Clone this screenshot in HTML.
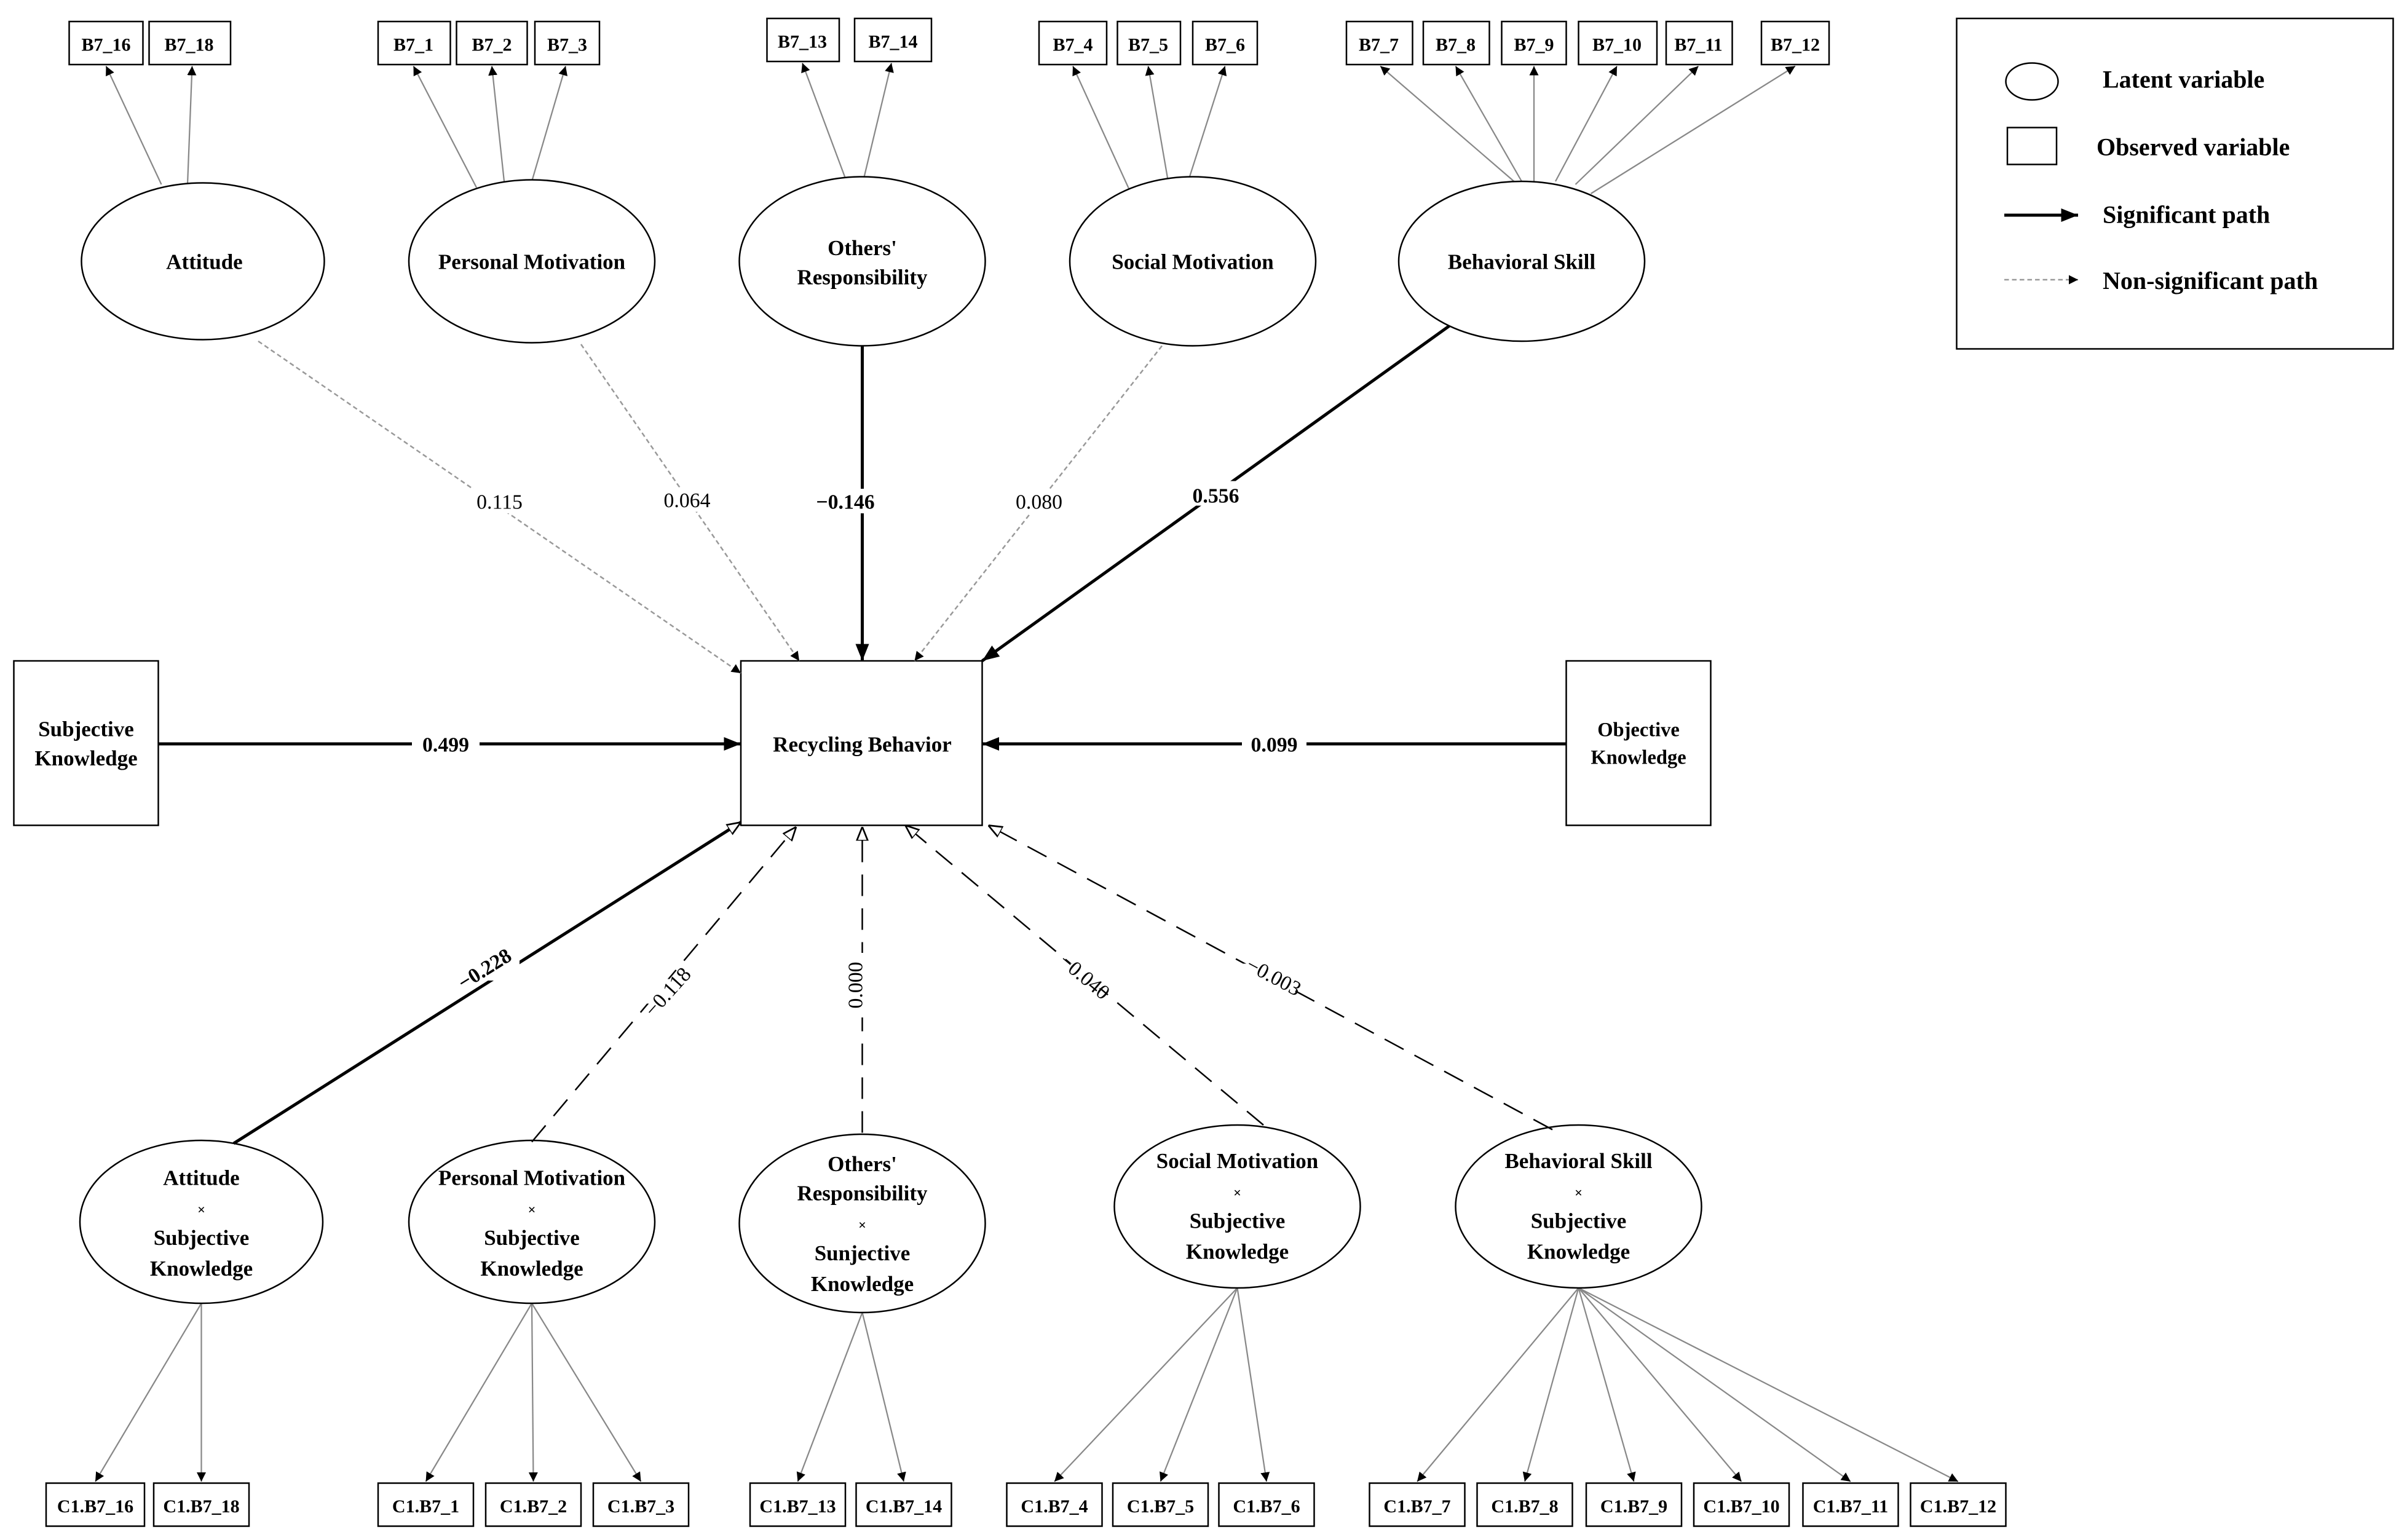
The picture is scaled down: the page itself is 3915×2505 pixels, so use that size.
<!DOCTYPE html>
<html><head><meta charset="utf-8"><style>
html,body{margin:0;padding:0;background:#fff}
svg{display:block}
text{font-family:"Liberation Serif",serif;fill:#000}
.b{font-weight:bold}
</style></head><body>
<svg width="3915" height="2505" viewBox="0 0 1566 1002" preserveAspectRatio="none" xmlns="http://www.w3.org/2000/svg">
<defs>
<marker id="sa" viewBox="0 0 10 10" refX="10" refY="5" markerWidth="6" markerHeight="6" orient="auto" markerUnits="userSpaceOnUse"><path d="M0,0L10,5L0,10z" fill="#000"/></marker>
<marker id="ba" viewBox="0 0 10 10" refX="10" refY="5" markerWidth="11" markerHeight="11" orient="auto" markerUnits="userSpaceOnUse"><path d="M0,1L10,5L0,9z" fill="#000"/></marker>
<marker id="oa" viewBox="0 0 10 10" refX="10" refY="5" markerWidth="9" markerHeight="9" orient="auto" markerUnits="userSpaceOnUse"><path d="M0,1L10,5L0,9z" fill="#fff" stroke="#000" stroke-width="1.2"/></marker>
</defs>
<g fill="#fff" stroke="#000" stroke-width="1">
<!-- top boxes -->
<rect x="45" y="14" width="48" height="28"/><rect x="97" y="14" width="53" height="28"/>
<rect x="246" y="14" width="47" height="28"/><rect x="297" y="14" width="46" height="28"/><rect x="348" y="14" width="42" height="28"/>
<rect x="499" y="12" width="47" height="28"/><rect x="556" y="12" width="50" height="28"/>
<rect x="676" y="14" width="44" height="28"/><rect x="727" y="14" width="41" height="28"/><rect x="776" y="14" width="42" height="28"/>
<rect x="876" y="14" width="43" height="28"/><rect x="926" y="14" width="43" height="28"/><rect x="977" y="14" width="42" height="28"/><rect x="1027" y="14" width="51" height="28"/><rect x="1084" y="14" width="43" height="28"/><rect x="1146" y="14" width="44" height="28"/>
<!-- legend -->
<rect x="1273" y="12" width="284" height="215"/>
<ellipse cx="1322" cy="53" rx="17" ry="12"/>
<rect x="1306" y="83" width="32" height="24"/>
<!-- main boxes -->
<rect x="482" y="430" width="157" height="107"/>
<rect x="9" y="430" width="94" height="107"/>
<rect x="1019" y="430" width="94" height="107"/>
<!-- bottom boxes -->
<rect x="30" y="965" width="64" height="28"/><rect x="100" y="965" width="62" height="28"/>
<rect x="246" y="965" width="62" height="28"/><rect x="316" y="965" width="62" height="28"/><rect x="386" y="965" width="62" height="28"/>
<rect x="488" y="965" width="62" height="28"/><rect x="557" y="965" width="62" height="28"/>
<rect x="655" y="965" width="62" height="28"/><rect x="724" y="965" width="62" height="28"/><rect x="793" y="965" width="62" height="28"/>
<rect x="891" y="965" width="62" height="28"/><rect x="961" y="965" width="62" height="28"/><rect x="1032" y="965" width="62" height="28"/><rect x="1102" y="965" width="62" height="28"/><rect x="1173" y="965" width="62" height="28"/><rect x="1243" y="965" width="62" height="28"/>
</g>
<!-- loading lines top -->
<g stroke="#888" stroke-width="0.9" fill="none" marker-end="url(#sa)">
<line x1="105" y1="120" x2="69" y2="43"/><line x1="122" y1="120" x2="125" y2="43"/>
<line x1="310" y1="122" x2="269" y2="43"/><line x1="328" y1="118" x2="320" y2="43"/><line x1="346" y1="118" x2="368" y2="43"/>
<line x1="550" y1="116" x2="522" y2="41"/><line x1="562" y1="116" x2="580" y2="41"/>
<line x1="735" y1="124" x2="698" y2="43"/><line x1="760" y1="118" x2="747" y2="43"/><line x1="773" y1="118" x2="797" y2="43"/>
<line x1="985" y1="118" x2="898" y2="43"/><line x1="990" y1="118" x2="947" y2="43"/><line x1="998" y1="118" x2="998" y2="43"/><line x1="1012" y1="118" x2="1052" y2="43"/><line x1="1025" y1="120" x2="1105" y2="43"/><line x1="1035" y1="126" x2="1168" y2="43"/>
<!-- bottom loadings -->
<line x1="131" y1="848" x2="62" y2="964"/><line x1="131" y1="848" x2="131" y2="964"/>
<line x1="346" y1="848" x2="277" y2="964"/><line x1="346" y1="848" x2="347" y2="964"/><line x1="346" y1="848" x2="417" y2="964"/>
<line x1="561" y1="854" x2="519" y2="964"/><line x1="561" y1="854" x2="588" y2="964"/>
<line x1="805" y1="838" x2="686" y2="964"/><line x1="805" y1="838" x2="755" y2="964"/><line x1="805" y1="838" x2="824" y2="964"/>
<line x1="1027" y1="838" x2="922" y2="964"/><line x1="1027" y1="838" x2="992" y2="964"/><line x1="1027" y1="838" x2="1063" y2="964"/><line x1="1027" y1="838" x2="1133" y2="964"/><line x1="1027" y1="838" x2="1204" y2="964"/><line x1="1027" y1="838" x2="1274" y2="964"/>
</g>
<!-- ellipses -->
<g fill="#fff" stroke="#000" stroke-width="1">
<ellipse cx="132" cy="170" rx="79" ry="51"/>
<ellipse cx="346" cy="170" rx="80" ry="53"/>
<ellipse cx="561" cy="170" rx="80" ry="55"/>
<ellipse cx="776" cy="170" rx="80" ry="55"/>
<ellipse cx="990" cy="170" rx="80" ry="52"/>
<ellipse cx="131" cy="795" rx="79" ry="53"/>
<ellipse cx="346" cy="795" rx="80" ry="53"/>
<ellipse cx="561" cy="796" rx="80" ry="58"/>
<ellipse cx="805" cy="785" rx="80" ry="53"/>
<ellipse cx="1027" cy="785" rx="80" ry="53"/>
</g>
<!-- structural paths -->
<g fill="none">
<line x1="168" y1="222" x2="482" y2="438" stroke="#999" stroke-dasharray="3,2" marker-end="url(#sa)"/>
<line x1="378" y1="224" x2="520" y2="430" stroke="#999" stroke-dasharray="3,2" marker-end="url(#sa)"/>
<line x1="561" y1="225" x2="561" y2="430" stroke="#000" stroke-width="2" marker-end="url(#ba)"/>
<line x1="756" y1="225" x2="595" y2="430" stroke="#999" stroke-dasharray="3,2" marker-end="url(#sa)"/>
<line x1="943" y1="212" x2="639" y2="430" stroke="#000" stroke-width="2" marker-end="url(#ba)"/>
<line x1="103" y1="484" x2="482" y2="484" stroke="#000" stroke-width="2" marker-end="url(#ba)"/>
<line x1="1019" y1="484" x2="639" y2="484" stroke="#000" stroke-width="2" marker-end="url(#ba)"/>
<line x1="152" y1="744" x2="482" y2="535" stroke="#000" stroke-width="2" marker-end="url(#oa)"/>
<line x1="346" y1="743" x2="518" y2="538" stroke="#000" stroke-dasharray="14,8" marker-end="url(#oa)"/>
<line x1="561" y1="737" x2="561" y2="538" stroke="#000" stroke-dasharray="14,8" marker-end="url(#oa)"/>
<line x1="822" y1="732" x2="589" y2="537" stroke="#000" stroke-dasharray="14,8" marker-end="url(#oa)"/>
<line x1="1010" y1="735" x2="643" y2="537" stroke="#000" stroke-dasharray="14,8" marker-end="url(#oa)"/>
<!-- legend lines -->
<line x1="1304" y1="140" x2="1352" y2="140" stroke="#000" stroke-width="2" marker-end="url(#ba)"/>
<line x1="1304" y1="182" x2="1352" y2="182" stroke="#999" stroke-dasharray="3,2" marker-end="url(#sa)"/>
</g>
<!-- label backgrounds -->
<g fill="#fff">
<rect x="305" y="318" width="40" height="16"/><rect x="428" y="317" width="38" height="16"/><rect x="528" y="318" width="44" height="16"/><rect x="656" y="318" width="40" height="16"/><rect x="772" y="313" width="38" height="16"/>
<rect x="268" y="476" width="44" height="16"/><rect x="808" y="476" width="42" height="16"/>
<rect x="292" y="622" width="46" height="16"/><rect x="412" y="637" width="44" height="16"/><rect x="552" y="620" width="18" height="42"/><rect x="686" y="627" width="40" height="16"/><rect x="808" y="627" width="42" height="16"/>
</g>
<g font-size="13.5" text-anchor="middle">
<text x="325" y="331">0.115</text><text x="447" y="330">0.064</text><text class="b" x="550" y="331">−0.146</text><text x="676" y="331">0.080</text><text class="b" x="791" y="327">0.556</text>
<text class="b" x="290" y="489">0.499</text><text class="b" x="829" y="489">0.099</text>
<text class="b" x="315" y="635" transform="rotate(-32 315 630)">−0.228</text>
<text x="434" y="650" transform="rotate(-48 434 645)">−0.118</text>
<text x="561" y="641" transform="rotate(-90 561 641)">0.000</text>
<text x="706" y="640" transform="rotate(40 706 635)">−0.040</text>
<text x="829" y="640" transform="rotate(28 829 635)">−0.003</text>
</g>
<g class="b" font-size="12" text-anchor="middle" font-weight="bold">
<text x="69" y="33">B7_16</text><text x="123" y="33">B7_18</text>
<text x="269" y="33">B7_1</text><text x="320" y="33">B7_2</text><text x="369" y="33">B7_3</text>
<text x="522" y="31">B7_13</text><text x="581" y="31">B7_14</text>
<text x="698" y="33">B7_4</text><text x="747" y="33">B7_5</text><text x="797" y="33">B7_6</text>
<text x="897" y="33">B7_7</text><text x="947" y="33">B7_8</text><text x="998" y="33">B7_9</text><text x="1052" y="33">B7_10</text><text x="1105" y="33">B7_11</text><text x="1168" y="33">B7_12</text>
<text x="62" y="984">C1.B7_16</text><text x="131" y="984">C1.B7_18</text>
<text x="277" y="984">C1.B7_1</text><text x="347" y="984">C1.B7_2</text><text x="417" y="984">C1.B7_3</text>
<text x="519" y="984">C1.B7_13</text><text x="588" y="984">C1.B7_14</text>
<text x="686" y="984">C1.B7_4</text><text x="755" y="984">C1.B7_5</text><text x="824" y="984">C1.B7_6</text>
<text x="922" y="984">C1.B7_7</text><text x="992" y="984">C1.B7_8</text><text x="1063" y="984">C1.B7_9</text><text x="1133" y="984">C1.B7_10</text><text x="1204" y="984">C1.B7_11</text><text x="1274" y="984">C1.B7_12</text>
</g>
<g font-size="14" font-weight="bold" text-anchor="middle">
<text x="133" y="175">Attitude</text>
<text x="346" y="175">Personal Motivation</text>
<text x="561" y="166">Others'</text><text x="561" y="185">Responsibility</text>
<text x="776" y="175">Social Motivation</text>
<text x="990" y="175">Behavioral Skill</text>
<text x="561" y="489">Recycling Behavior</text>
<text x="56" y="479">Subjective</text><text x="56" y="498">Knowledge</text>
<text x="1066" y="479" font-size="13">Objective</text><text x="1066" y="497" font-size="13">Knowledge</text>
<text x="131" y="771">Attitude</text><text x="131" y="790" font-size="9">×</text><text x="131" y="810">Subjective</text><text x="131" y="830">Knowledge</text>
<text x="346" y="771">Personal Motivation</text><text x="346" y="790" font-size="9">×</text><text x="346" y="810">Subjective</text><text x="346" y="830">Knowledge</text>
<text x="561" y="762">Others'</text><text x="561" y="781">Responsibility</text><text x="561" y="800" font-size="9">×</text><text x="561" y="820">Sunjective</text><text x="561" y="840">Knowledge</text>
<text x="805" y="760">Social Motivation</text><text x="805" y="779" font-size="9">×</text><text x="805" y="799">Subjective</text><text x="805" y="819">Knowledge</text>
<text x="1027" y="760">Behavioral Skill</text><text x="1027" y="779" font-size="9">×</text><text x="1027" y="799">Subjective</text><text x="1027" y="819">Knowledge</text>
</g>
<g font-size="16" font-weight="bold">
<text x="1368" y="57">Latent variable</text>
<text x="1364" y="101">Observed  variable</text>
<text x="1368" y="145">Significant path</text>
<text x="1368" y="188">Non-significant path</text>
</g>
</svg>
</body></html>
